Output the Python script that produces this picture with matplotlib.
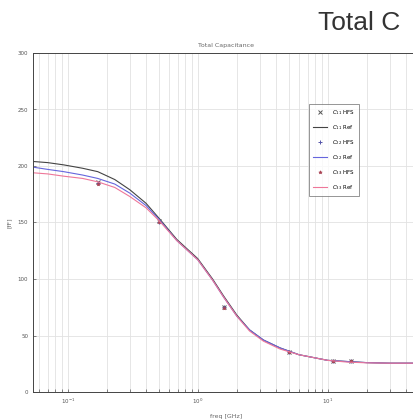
import matplotlib.pyplot as plt

# frequency points (GHz) for the reference curves
freq = [0.054, 0.07, 0.093, 0.13, 0.17, 0.23, 0.3, 0.4, 0.51, 0.69, 1.0, 1.3,
        1.58, 2.0, 2.5, 3.2, 4.3, 6.0, 10, 14, 20, 30, 50]
c11_ref = [204, 203, 201, 198, 195, 188, 179, 167, 153, 135, 118, 100,
           85, 68, 55, 46, 39, 33, 28, 27, 26, 25.5, 25.5]
c22_ref = [199, 197, 195, 192, 189, 184, 176, 165, 152, 134, 117, 99,
           84, 67, 55, 46, 39, 33, 28, 27, 26, 25.5, 25.5]
c33_ref = [194, 193, 191, 189, 186, 181, 173, 163, 151, 134, 117, 99,
           84, 67, 54, 45, 38, 33, 28, 26.5, 25.8, 25.5, 25.5]

# simulated (HFS) points
f_hfs = [0.17, 0.5, 1.58, 5, 11, 15]
c11_hfs = [186, 151, 75, 35, 27.5, 27]
c22_hfs = [185, 150, 75, 35, 27.5, 27]
c33_hfs = [184, 150, 74, 35, 27.5, 27]

fig = plt.figure(figsize=(4.13, 4.19), dpi=100)
ax = fig.add_axes([33 / 413, 1 - 392 / 419, (418.6 - 33) / 413, (392 - 53) / 419])

ax.plot(f_hfs, c11_hfs, 'x', color='#555555', ms=3, mew=0.7, label=r'$C_{11}$ HFS')
ax.plot(freq, c11_ref, '-', color='#444444', lw=0.8, label=r'$C_{11}$ Ref')
ax.plot(f_hfs, c22_hfs, '+', color='#5555aa', ms=3, mew=0.7, label=r'$C_{22}$ HFS')
ax.plot(freq, c22_ref, '-', color='#6666dd', lw=0.8, label=r'$C_{22}$ Ref')
ax.plot(f_hfs, c33_hfs, '*', color='#aa4455', ms=2.5, mew=0.5, label=r'$C_{33}$ HFS')
ax.plot(freq, c33_ref, '-', color='#ee7799', lw=0.8, label=r'$C_{33}$ Ref')

ax.set_xscale('log')
ax.set_xlim(0.054, 50)
ax.set_ylim(0, 300)
ax.set_yticks(range(0, 301, 50))
ax.grid(True, which='both', color='#e2e2e2', lw=0.6)
ax.tick_params(which='both', direction='in', labelsize=4, colors='#555555',
               length=2, width=0.5)
for s in ax.spines.values():
    s.set_color('#444444')
    s.set_linewidth(0.7)

ax.set_title('Total Capacitance', fontsize=4.5, color='#666666', pad=4)
ax.set_xlabel('freq [GHz]', fontsize=4.5, color='#666666', labelpad=6)
ax.set_ylabel('[fF]', fontsize=4.5, color='#666666', labelpad=4)

leg = ax.legend(loc='upper left', bbox_to_anchor=((306 - 33) / 385.6, (392 - 101) / 339),
                fontsize=4, frameon=True, fancybox=False, edgecolor='#666666',
                handlelength=2.6, labelspacing=1.1, borderpad=0.7)
leg.get_frame().set_linewidth(0.6)

fig.text(400 / 413, 1 - 30 / 419, 'Total C', fontsize=19, color='#333333',
         family='Liberation Sans', ha='right', va='baseline')

fig.savefig('out.png', dpi=100)
